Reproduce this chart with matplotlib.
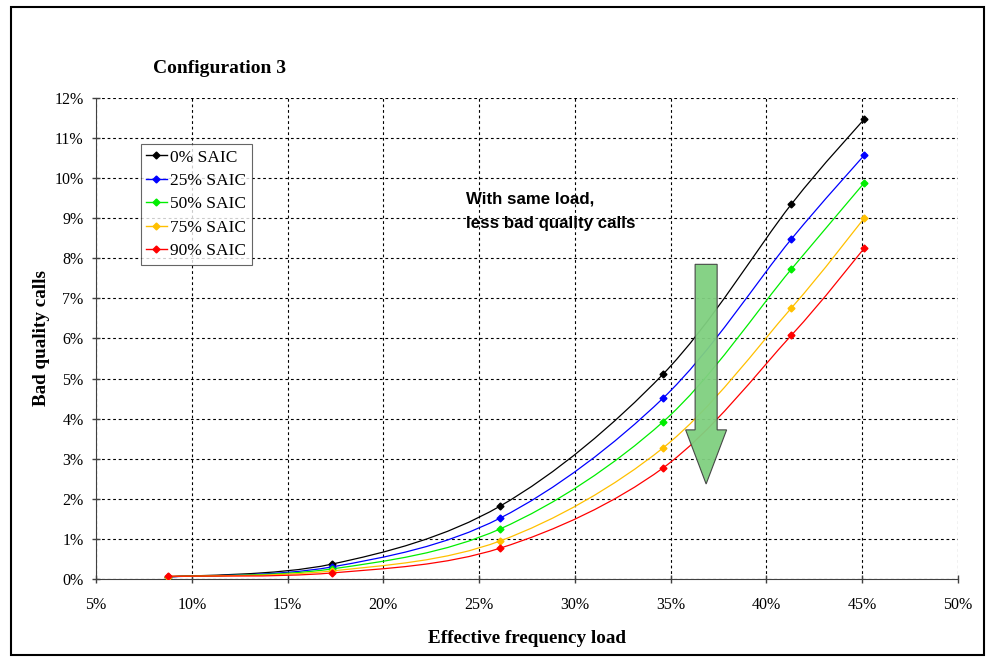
import matplotlib.pyplot as plt
import numpy as np
from matplotlib.path import Path
from matplotlib.patches import PathPatch, FancyArrow, Rectangle

# Data
load = [8.76, 17.3, 26.1, 34.6, 41.3, 45.1]  # effective frequency load, %
saic_0 = [0.05, 0.37, 1.82, 5.11, 9.35, 11.47]
saic_25 = [0.05, 0.30, 1.52, 4.51, 8.48, 10.57]
saic_50 = [0.06, 0.25, 1.25, 3.92, 7.73, 9.88]
saic_75 = [0.06, 0.20, 0.95, 3.27, 6.76, 9.00]
saic_90 = [0.07, 0.15, 0.77, 2.77, 6.08, 8.25]
series_names = ['0% SAIC', '25% SAIC', '50% SAIC', '75% SAIC', '90% SAIC']
series_colors = ['black', '#0000ff', '#00ee00', '#ffc000', '#ff0000']
x_ticks = [5, 10, 15, 20, 25, 30, 35, 40, 45, 50]
y_ticks = list(range(0, 13))

serif = 'Liberation Serif'


def smooth_path(x, y, tension=0.5):
    # Excel-like smoothed line: Catmull-Rom segments as cubic Bezier curves
    x = np.asarray(x, float)
    y = np.asarray(y, float)
    n = len(x)
    verts = [(x[0], y[0])]
    codes = [Path.MOVETO]
    for i in range(n - 1):
        x0, y0 = (x[i - 1], y[i - 1]) if i > 0 else (x[i], y[i])
        x3, y3 = (x[i + 2], y[i + 2]) if i + 2 < n else (x[i + 1], y[i + 1])
        c1 = (x[i] + (x[i + 1] - x0) * tension / 3, y[i] + (y[i + 1] - y0) * tension / 3)
        c2 = (x[i + 1] - (x3 - x[i]) * tension / 3, y[i + 1] - (y3 - y[i]) * tension / 3)
        verts += [c1, c2, (x[i + 1], y[i + 1])]
        codes += [Path.CURVE4] * 3
    return Path(verts, codes)


fig = plt.figure(figsize=(9.9, 6.62), dpi=100)
ax = fig.add_axes([0.097, 0.1254, 0.8707, 0.7266])

# Outer border of the chart area
fig.patches.append(Rectangle((0.011, 0.011), 0.983, 0.979, transform=fig.transFigure,
                             fill=False, edgecolor='black', linewidth=1.5))

all_series = [saic_0, saic_25, saic_50, saic_75, saic_90]
for vals, name, col in zip(all_series, series_names, series_colors):
    ax.add_patch(PathPatch(smooth_path(load, vals), fill=False, edgecolor=col,
                           linewidth=0.9, zorder=3))
    ax.plot(load, vals, linestyle='none', marker='D', markersize=3.5, color=col,
            zorder=4)
    # legend proxy
    ax.plot([], [], color=col, marker='D', markersize=3.5, linewidth=1, label=name)

ax.set_xlim(5, 50)
ax.set_ylim(0, 12)
ax.set_xticks(x_ticks)
ax.set_yticks(y_ticks)
ax.set_xticklabels([f'{t}%' for t in x_ticks], fontfamily=serif, fontsize=11.5)
ax.set_yticklabels([f'{t}%' for t in y_ticks], fontfamily=serif, fontsize=11.5)
ax.tick_params(direction='inout', length=6, width=1, color='#404040')
ax.tick_params(axis='y', pad=6)
ax.tick_params(axis='x', pad=10)

ax.grid(True, color='black', linestyle=(0, (2.5, 2.5)), linewidth=0.8)
ax.set_axisbelow(True)
ax.spines['top'].set_visible(False)
ax.spines['right'].set_visible(False)
for s in ('left', 'bottom'):
    ax.spines[s].set_color('#404040')

ax.set_xlabel('Effective frequency load', fontfamily=serif, fontweight='bold',
              fontsize=13.8, labelpad=12)
ax.set_ylabel('Bad quality calls', fontfamily=serif, fontweight='bold',
              fontsize=13.8, labelpad=3)
fig.text(0.155, 0.896, 'Configuration 3', fontfamily=serif, fontweight='bold',
         fontsize=14, ha='left', va='center')

leg = ax.legend(loc='upper left', bbox_to_anchor=(0.052, 0.904), prop={'family': serif, 'size': 12.5},
                frameon=True, fancybox=False, edgecolor='#404040', handlelength=1.2,
                handletextpad=0.2, borderpad=0.3, labelspacing=0.42, borderaxespad=0)
leg.get_frame().set_linewidth(0.8)

ax.text(24.3, 9.18, 'With same load,\nless bad quality calls', fontfamily='Liberation Sans',
        fontweight='bold', fontsize=12.2, ha='left', va='center', linespacing=1.75)

arrow = FancyArrow(36.85, 7.85, 0, -5.48, width=1.15, head_width=2.14,
                   head_length=1.35, length_includes_head=True,
                   facecolor='#80d080', edgecolor='#404040', linewidth=0.8,
                   alpha=0.95, zorder=5)
ax.add_patch(arrow)

fig.savefig('out.png', dpi=100)
